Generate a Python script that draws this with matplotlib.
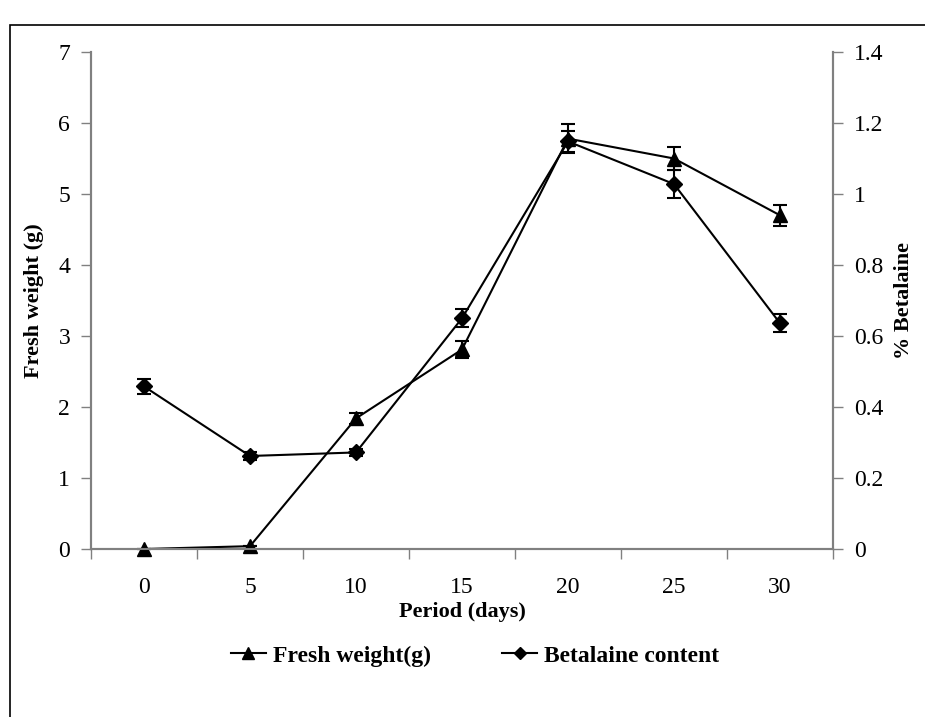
import matplotlib
matplotlib.use("Agg")
import matplotlib.pyplot as plt
from matplotlib.lines import Line2D
from matplotlib.patches import Rectangle

periods = ["0", "5", "10", "15", "20", "25", "30"]
fresh_weight = [0.0, 0.04, 1.84, 2.81, 5.78, 5.50, 4.70]
fresh_err = [0.0, 0.0, 0.08, 0.12, 0.2, 0.16, 0.15]
betalaine = [0.458, 0.262, 0.272, 0.650, 1.148, 1.028, 0.636]
betalaine_err = [0.02, 0.01, 0.01, 0.026, 0.03, 0.04, 0.025]
left_ticks = [0, 1, 2, 3, 4, 5, 6, 7]
right_ticks = [0, 0.2, 0.4, 0.6, 0.8, 1, 1.2, 1.4]
right_labels = ["0", "0.2", "0.4", "0.6", "0.8", "1", "1.2", "1.4"]

plt.rcParams['font.family'] = ['Liberation Serif', 'DejaVu Serif']

fig = plt.figure(figsize=(9.25, 7.17), dpi=100)
ax = fig.add_axes([91/925, 1-549/717, (833-91)/925, (549-52)/717])
ax2 = ax.twinx()

x = list(range(len(periods)))
spine_col = '#808080'

l1 = ax.errorbar(x, fresh_weight, yerr=fresh_err, color='black', lw=1.5,
                 marker='^', ms=10, capsize=5, capthick=1.5, elinewidth=1.5, zorder=3)
l2 = ax2.errorbar(x, betalaine, yerr=betalaine_err, color='black', lw=1.5,
                  marker='D', ms=8, capsize=5, capthick=1.5, elinewidth=1.5, zorder=3)
for container in (l1, l2):
    for art in container.lines:
        if art is None:
            continue
        if isinstance(art, tuple):
            for a in art:
                a.set_clip_on(False)
        else:
            art.set_clip_on(False)

ax.set_xlim(-0.5, len(periods) - 0.5)
ax.set_ylim(0, 7)
ax2.set_ylim(0, 1.4)

ax.set_xticks([i - 0.5 for i in range(len(periods) + 1)])
ax.set_xticklabels([])
ax.set_xticks(x, minor=True)
ax.set_xticklabels(periods, minor=True)
ax.tick_params(axis='x', which='major', direction='out', length=7, width=1, color=spine_col)
ax.tick_params(axis='x', which='minor', length=0, labelsize=17, pad=20)

ax.set_yticks(left_ticks)
ax.set_yticklabels([str(t) for t in left_ticks])
ax.tick_params(axis='y', direction='out', length=7, width=1, color=spine_col, labelsize=17, pad=8)
ax2.set_yticks(right_ticks)
ax2.set_yticklabels(right_labels)
ax2.tick_params(axis='y', direction='out', length=7, width=1, color=spine_col, labelsize=17, pad=8)

for a in (ax, ax2):
    a.spines['top'].set_visible(False)
    for s in ('left', 'right', 'bottom'):
        a.spines[s].set_color(spine_col)
        a.spines[s].set_linewidth(1.5)

ax.set_ylabel("Fresh weight (g)", fontsize=16, fontweight='bold', labelpad=10)
ax2.set_ylabel("% Betalaine", fontsize=16, fontweight='bold', labelpad=8)
ax.set_xlabel("Period (days)", fontsize=16, fontweight='bold', labelpad=3)

h1 = Line2D([], [], color='black', lw=1.5, marker='^', ms=8)
h2 = Line2D([], [], color='black', lw=1.5, marker='D', ms=6)
fig.legend([h1, h2], ["Fresh weight(g)", "Betalaine content"],
           loc='center', bbox_to_anchor=(475/925, 1-656/717), ncol=2,
           frameon=False, prop={'size': 17, 'weight': 'bold'},
           handlelength=1.5, handletextpad=0.3, columnspacing=3.0)

fig.patches.append(Rectangle((10/925, -0.05), 1.2, 1-25/717+0.05,
                             transform=fig.transFigure, fill=False,
                             edgecolor='black', lw=1.2))

fig.savefig("out.png", dpi=100)
